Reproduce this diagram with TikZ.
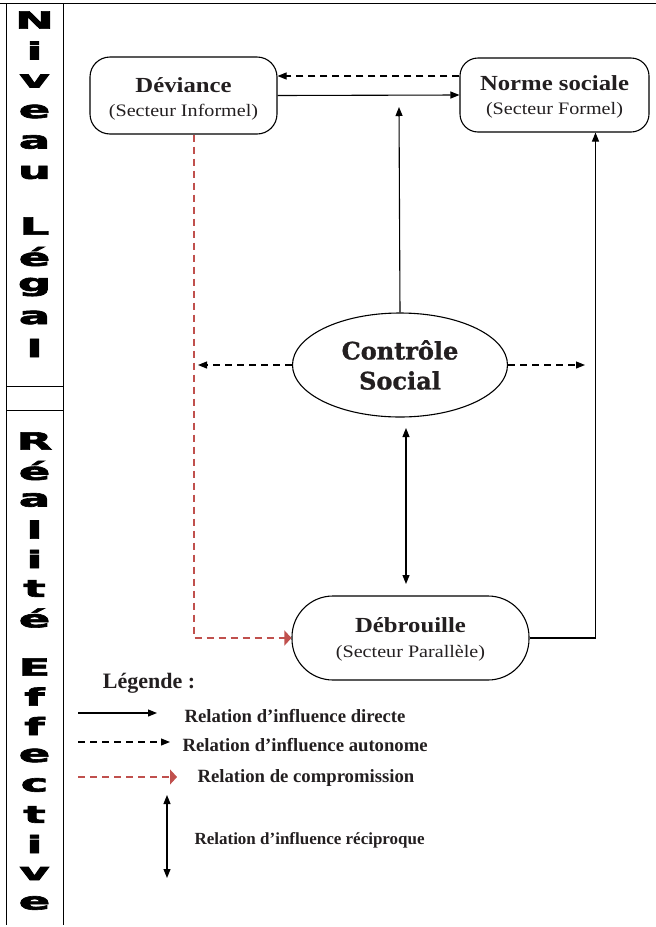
\documentclass[tikz,border=0pt]{standalone}
\usepackage{fontspec}
\setmainfont{Liberation Serif}
\newfontfamily\palfont[FakeStretch=1.15]{Liberation Serif}
\newfontfamily\slabfont[FakeBold=1.2]{DejaVu Serif Bold}
\newfontfamily\blkfont[FakeBold=2.5]{DejaVu Sans Bold}
\usetikzlibrary{arrows.meta,shapes.geometric,calc}
\definecolor{txt}{RGB}{35,31,32}
\definecolor{compro}{RGB}{192,80,77}
\newcommand{\vlet}[1]{\scalebox{3.3}[1.7]{\blkfont\fontsize{14}{14}\selectfont #1}}
\begin{document}
\begin{tikzpicture}[x=1pt,y=-1pt,line width=1.1pt,
  boxst/.style={draw,line width=1.1pt,inner sep=0pt},
  titlest/.style={font=\palfont\bfseries\fontsize{21.5}{23}\selectfont,text=txt,inner sep=0pt},
  subst/.style={font=\palfont\fontsize{17.5}{19}\selectfont,text=txt,inner sep=0pt},
  legst/.style={font=\bfseries\fontsize{18.7}{20}\selectfont,text=txt,inner sep=0pt,anchor=west},
  letst/.style={inner sep=0pt,text=black},
  arr/.style={-{Triangle[length=9pt,width=7pt]}},
  darr/.style={{Triangle[length=9pt,width=7pt]}-{Triangle[length=9pt,width=7pt]}},
  dsh/.style={dash pattern=on 7pt off 5pt},
  red/.style={draw=compro,dash pattern=on 7pt off 5pt,-{Triangle[length=7pt,width=15pt,fill=compro]}},
  frame/.style={line width=1pt}
]
\useasboundingbox (0,0) rectangle (656,927);

% frame and left column
\draw[frame] (0,3) -- (656,3);
\draw[frame] (6,3) -- (6,925);
\draw[frame] (63,3) -- (63,925);
\draw[frame] (6,386) -- (63,386);
\draw[frame] (6,410) -- (63,410);

\foreach \l/\y [count=\k] in {N/20,i/50.5,v/81,e/111.5,a/142,u/172.5,L/226,é/256.5,g/287,a/317.5,l/348}
  \node[letst] (up\k) at (34.5,\y) {\vlet{\l}};
\foreach \l/\y [count=\k] in {R/441,é/470.5,a/500,l/529.5,i/559,t/588.5,é/618,E/667,f/696.5,f/726,e/755.5,c/785,t/814.5,i/844,v/873.5,e/903}
  \node[letst] (lo\k) at (34.5,\y) {\vlet{\l}};

% boxes
\node[boxst,rounded corners=20pt,minimum width=187pt,minimum height=77pt] (dev) at (183.5,95.5) {};
\node[titlest] (devt) at (183.5,85) {Déviance};
\node[subst] (devs) at (183.5,112) {(Secteur Informel)};

\node[boxst,rounded corners=18pt,minimum width=189pt,minimum height=74pt] (norme) at (554.5,95) {};
\node[titlest] (normet) at (554.5,83) {Norme sociale};
\node[subst] (normes) at (554.5,110) {(Secteur Formel)};

\node[boxst,ellipse,minimum width=215pt,minimum height=104pt,align=center,
  font=\slabfont\fontsize{24}{30}\selectfont,text=txt] (ctrl) at (400,365) {Contrôle\\Social};

\node[boxst,rounded corners=41pt,minimum width=237pt,minimum height=84pt] (deb) at (410.5,638) {};
\node[titlest] (debt) at (410.5,625) {Débrouille};
\node[subst] (debs) at (410.5,653) {(Secteur Parallèle)};

% connectors
\draw[arr,dsh] (norme.west |- {(0,76)}) -- (dev.east |- {(0,76)});
\draw[arr] (dev.east) -- (norme.west);
\coordinate (ctop) at (399,107);
\draw[arr] (ctrl.north) -- (ctop);
\coordinate (cleft) at (198,365);
\coordinate (cright) at (585,365);
\draw[arr,dsh] (ctrl.west) -- (cleft);
\draw[arr,dsh] (ctrl.east) -- (cright);
\coordinate (dtop) at (406,428);
\coordinate (dbot) at (406,584);
\draw[darr] (dtop) -- (dbot);
\draw[arr] (deb.east) -| ($(norme.south)+(41,0)$);
\draw[red] ($(dev.south)+(10.5,0)$) |- (deb.west);

% legend
\node[font=\bfseries\fontsize{22}{24}\selectfont,text=txt,inner sep=0pt] (leg) at (149,683) {Légende :};
\coordinate (l1a) at (78,713); \coordinate (l1b) at (157,713);
\coordinate (l2a) at (78,742); \coordinate (l2b) at (170,742);
\coordinate (l3a) at (78,777); \coordinate (l3b) at (177,777);
\coordinate (l4a) at (167,795); \coordinate (l4b) at (167,878);
\draw[arr] (l1a) -- (l1b);
\draw[arr,dsh] (l2a) -- (l2b);
\draw[red] (l3a) -- (l3b);
\draw[darr] (l4a) -- (l4b);
\node[legst] (lt1) at (184,716) {Relation d’influence directe};
\node[legst] (lt2) at (182,745) {Relation d’influence autonome};
\node[legst] (lt3) at (197,778) {Relation de compromission};
\node[legst,font=\bfseries\fontsize{17}{19}\selectfont] (lt4) at (194,840) {Relation d’influence réciproque};
\end{tikzpicture}
\end{document}
